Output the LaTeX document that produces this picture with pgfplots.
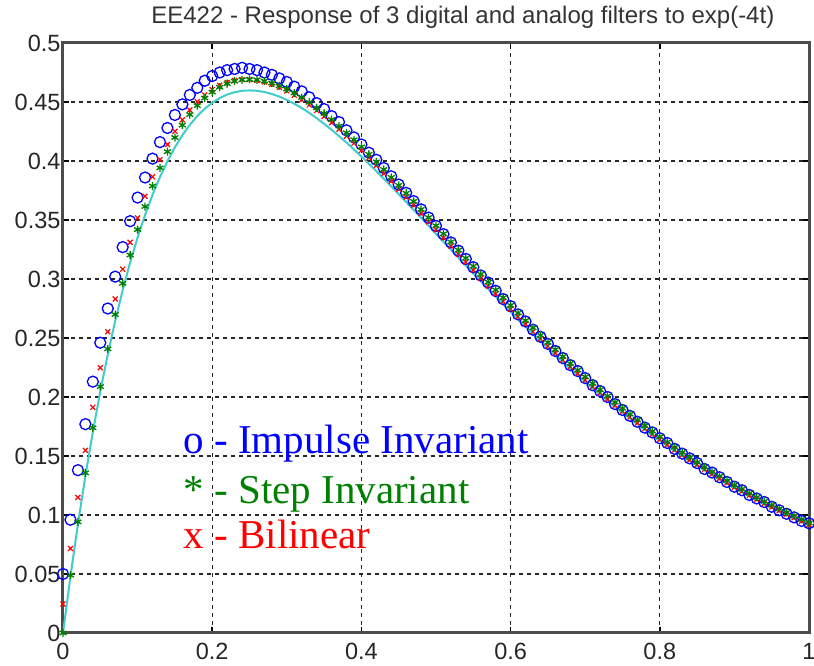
\documentclass[border=0pt]{standalone}
\usepackage{fontspec}
\setmainfont{Liberation Serif}
\newfontfamily\arial{Liberation Sans}
\usepackage{pgfplots}
\usepackage{pgfplotstable}
\pgfplotsset{compat=1.18}
\definecolor{mgreen}{rgb}{0,0.5,0}
\definecolor{mcyan}{rgb}{0.25,0.8,0.8}
\pgfplotstableread{
t A I S B
0.00 0.0000 0.050 0.0000 0.0245
0.01 0.0480 0.096 0.0490 0.0716
0.02 0.0923 0.138 0.0942 0.1149
0.03 0.1330 0.177 0.1357 0.1548
0.04 0.1704 0.213 0.1739 0.1913
0.05 0.2047 0.246 0.2088 0.2248
0.06 0.2360 0.275 0.2408 0.2553
0.07 0.2645 0.302 0.2699 0.2831
0.08 0.2905 0.327 0.2963 0.3083
0.09 0.3140 0.349 0.3203 0.3311
0.10 0.3352 0.369 0.3419 0.3517
0.11 0.3542 0.386 0.3614 0.3701
0.12 0.3713 0.402 0.3788 0.3866
0.13 0.3864 0.416 0.3942 0.4011
0.14 0.3998 0.428 0.4079 0.4140
0.15 0.4116 0.439 0.4199 0.4252
0.16 0.4218 0.448 0.4304 0.4349
0.17 0.4306 0.456 0.4393 0.4432
0.18 0.4381 0.462 0.4469 0.4502
0.19 0.4443 0.468 0.4533 0.4559
0.20 0.4493 0.472 0.4584 0.4605
0.21 0.4533 0.475 0.4625 0.4641
0.22 0.4563 0.477 0.4655 0.4666
0.23 0.4583 0.478 0.4676 0.4683
0.24 0.4595 0.479 0.4688 0.4690
0.25 0.4598 0.478 0.4691 0.4691
0.26 0.4595 0.477 0.4688 0.4683
0.27 0.4585 0.475 0.4677 0.4670
0.28 0.4568 0.473 0.4660 0.4650
0.29 0.4546 0.470 0.4637 0.4624
0.30 0.4518 0.467 0.4609 0.4594
0.31 0.4485 0.463 0.4576 0.4558
0.32 0.4449 0.459 0.4538 0.4518
0.33 0.4408 0.454 0.4497 0.4475
0.34 0.4363 0.449 0.4451 0.4428
0.35 0.4315 0.444 0.4403 0.4378
0.36 0.4265 0.438 0.4351 0.4325
0.37 0.4211 0.433 0.4296 0.4269
0.38 0.4156 0.426 0.4239 0.4211
0.39 0.4098 0.420 0.4180 0.4151
0.40 0.4038 0.414 0.4120 0.4089
0.41 0.3977 0.407 0.4057 0.4026
0.42 0.3914 0.401 0.3993 0.3962
0.43 0.3850 0.394 0.3928 0.3895
0.44 0.3785 0.387 0.3861 0.3829
0.45 0.3719 0.380 0.3794 0.3762
0.46 0.3653 0.373 0.3727 0.3694
0.47 0.3586 0.366 0.3658 0.3625
0.48 0.3519 0.359 0.3590 0.3556
0.49 0.3451 0.352 0.3521 0.3486
0.50 0.3383 0.345 0.3452 0.3417
0.51 0.3316 0.338 0.3383 0.3348
0.52 0.3248 0.331 0.3314 0.3279
0.53 0.3181 0.324 0.3245 0.3210
0.54 0.3114 0.317 0.3177 0.3142
0.55 0.3047 0.310 0.3109 0.3074
0.56 0.2981 0.303 0.3041 0.3007
0.57 0.2915 0.297 0.2974 0.2940
0.58 0.2850 0.290 0.2908 0.2874
0.59 0.2785 0.283 0.2842 0.2809
0.60 0.2722 0.277 0.2777 0.2744
0.61 0.2658 0.270 0.2712 0.2680
0.62 0.2596 0.264 0.2648 0.2617
0.63 0.2534 0.257 0.2586 0.2554
0.64 0.2474 0.251 0.2524 0.2493
0.65 0.2414 0.245 0.2463 0.2432
0.66 0.2355 0.239 0.2402 0.2372
0.67 0.2297 0.233 0.2343 0.2314
0.68 0.2240 0.227 0.2285 0.2256
0.69 0.2184 0.222 0.2228 0.2199
0.70 0.2128 0.216 0.2171 0.2143
0.71 0.2074 0.210 0.2116 0.2088
0.72 0.2021 0.205 0.2062 0.2035
0.73 0.1969 0.200 0.2008 0.1982
0.74 0.1917 0.194 0.1956 0.1930
0.75 0.1867 0.189 0.1905 0.1879
0.76 0.1818 0.184 0.1854 0.1829
0.77 0.1769 0.179 0.1805 0.1781
0.78 0.1722 0.174 0.1757 0.1733
0.79 0.1676 0.170 0.1710 0.1686
0.80 0.1630 0.165 0.1663 0.1641
0.81 0.1586 0.161 0.1618 0.1596
0.82 0.1543 0.156 0.1574 0.1552
0.83 0.1500 0.152 0.1531 0.1509
0.84 0.1459 0.148 0.1488 0.1467
0.85 0.1418 0.144 0.1447 0.1427
0.86 0.1379 0.139 0.1407 0.1387
0.87 0.1340 0.136 0.1367 0.1348
0.88 0.1302 0.132 0.1329 0.1310
0.89 0.1266 0.128 0.1291 0.1273
0.90 0.1230 0.124 0.1254 0.1236
0.91 0.1194 0.121 0.1219 0.1201
0.92 0.1160 0.117 0.1184 0.1167
0.93 0.1127 0.114 0.1150 0.1133
0.94 0.1094 0.111 0.1116 0.1100
0.95 0.1063 0.107 0.1084 0.1068
0.96 0.1032 0.104 0.1053 0.1037
0.97 0.1002 0.101 0.1022 0.1007
0.98 0.0972 0.098 0.0992 0.0977
0.99 0.0944 0.095 0.0963 0.0948
1.00 0.0916 0.093 0.0934 0.0920
}\data
\begin{document}
\begin{tikzpicture}
\useasboundingbox (-63pt,-33pt) rectangle (751pt,633pt);
\begin{axis}[
  at={(0pt,0pt)}, anchor=south west,
  scale only axis, width=746pt, height=590pt,
  xmin=0, xmax=1, ymin=0, ymax=0.5,
  xtick={0,0.2,0.4,0.6,0.8,1},
  xticklabels={0,0.2,0.4,0.6,0.8,1},
  ytick={0,0.05,0.1,0.15,0.2,0.25,0.3,0.35,0.4,0.45,0.5},
  yticklabels={0,0.05,0.1,0.15,0.2,0.25,0.3,0.35,0.4,0.45,0.5},
  tick align=inside, major tick length=6pt,
  tick style={black, line width=1.5pt},
  grid=major,
  major grid style={black!85, line width=1.3pt, dash pattern=on 4pt off 4pt},
  axis line style={black!70, line width=3pt},
  tick label style={font=\fontsize{23.5}{26}\selectfont\arial, text=black!85},
  xticklabel style={anchor=base, yshift=-27pt},
  yticklabel style={xshift=1pt},
  title={EE422 - Response of 3 digital and analog filters to exp(-4t)},
  title style={font=\fontsize{24}{26}\selectfont\arial, text=black!80, at={(0.536,1)}, anchor=base, yshift=13pt},
]
\addplot[only marks, blue, mark=o, mark size=5.5pt, mark options={line width=1.3pt}] table[x=t, y=I] {\data};
\addplot[only marks, red, mark=x, mark size=3.5pt, mark options={line width=1.2pt}] table[x=t, y=B] {\data};
\addplot[only marks, mgreen, mark=asterisk, mark size=4pt, mark options={line width=1.3pt}] table[x=t, y=S] {\data};
\addplot[mcyan, line width=2pt] table[x=t, y=A] {\data};
\node[anchor=base west, text=blue, font=\fontsize{41}{48}\selectfont] at (axis cs:0.157,0.1525) {o - Impulse Invariant};
\node[anchor=base west, text=mgreen, font=\fontsize{41}{48}\selectfont] at (axis cs:0.157,0.110) {* - Step Invariant};
\node[anchor=base west, text=red, font=\fontsize{41}{48}\selectfont] at (axis cs:0.157,0.072) {x - Bilinear};
\end{axis}
\end{tikzpicture}
\end{document}
